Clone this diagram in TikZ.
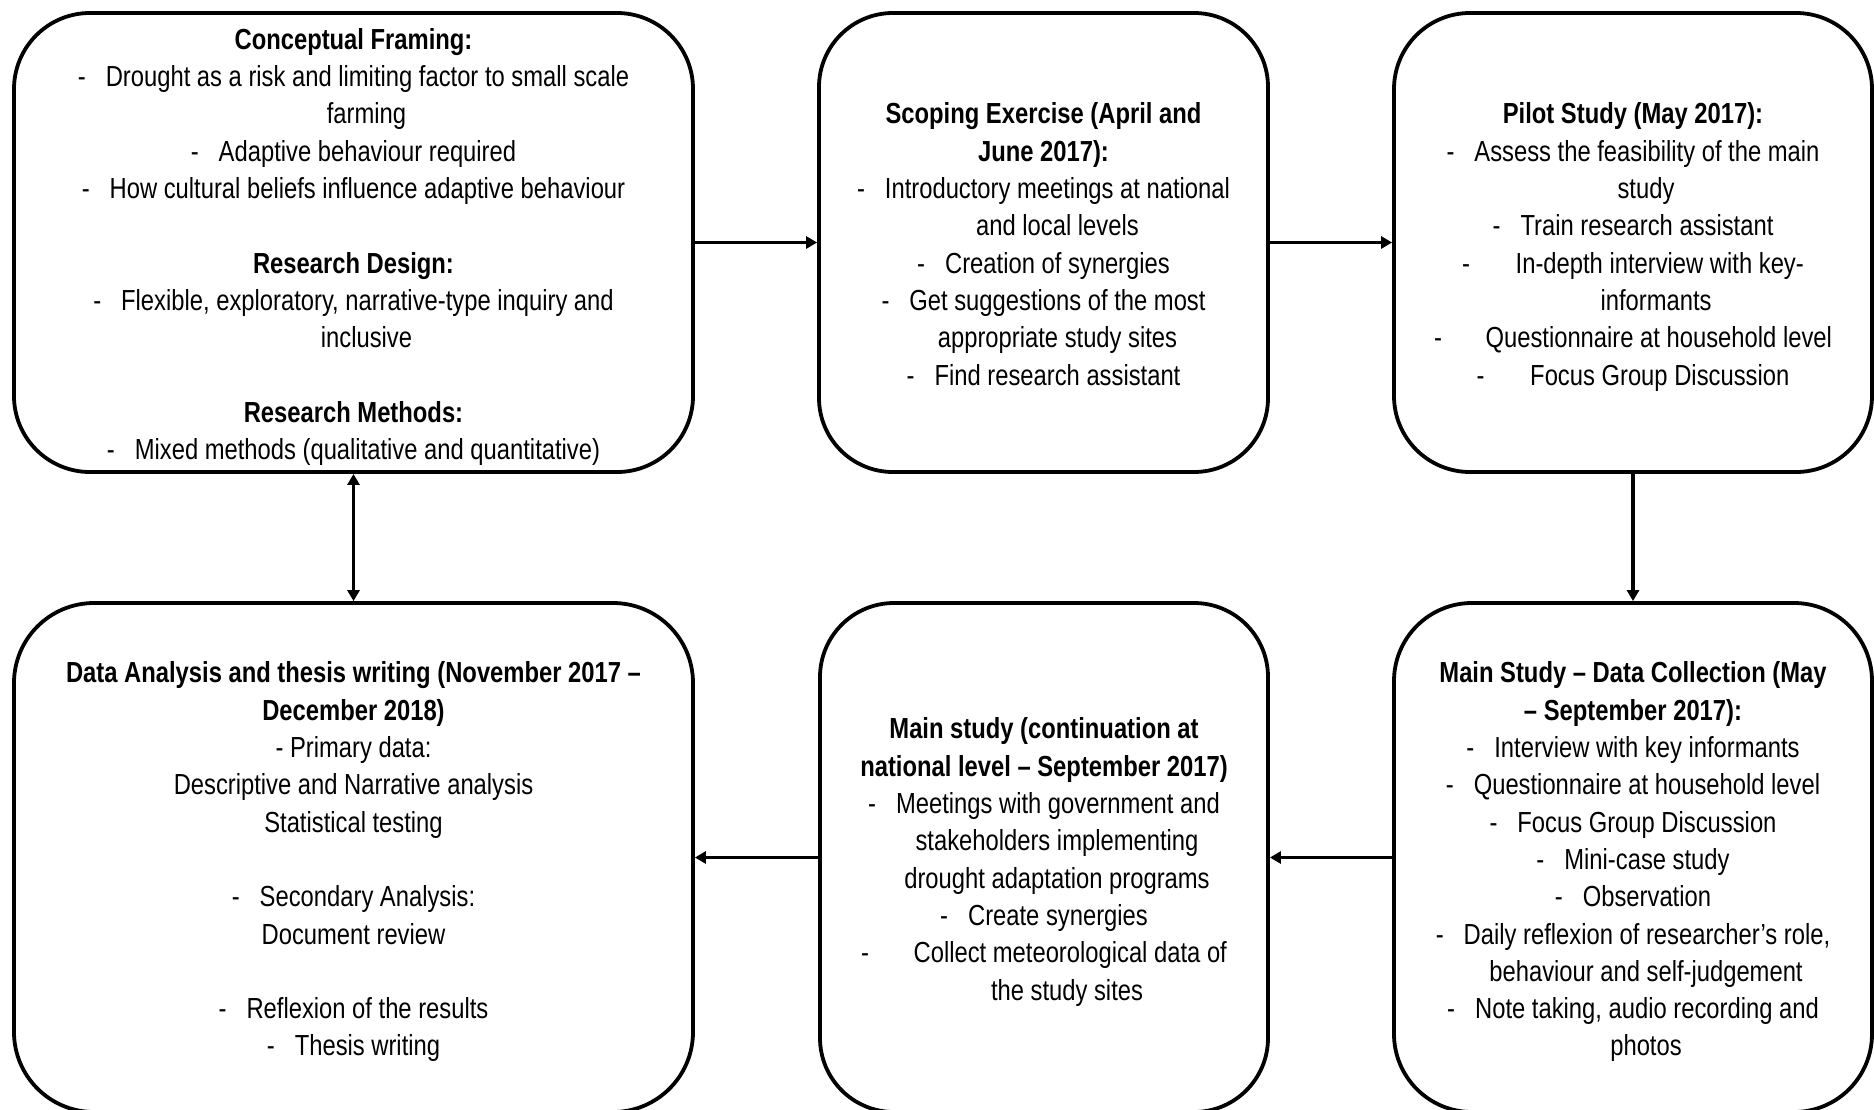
\documentclass[tikz,border=0pt]{standalone}
\usepackage{fontspec}
\setmainfont{Liberation Sans}[FakeStretch=0.82]
\usetikzlibrary{arrows.meta}

% dash bullet with adjustable gap before the item text
\newcommand\dashitem[1][20pt]{-\hspace*{#1}}
% indent for wrapped continuation lines
\newcommand\contline[1][26pt]{\hspace*{#1}}

\tikzset{
  stage/.style={draw, line width=3.8pt, rectangle, inner sep=0pt},
  stagetext/.style={align=center, inner sep=0pt, text=black,
    font=\fontsize{29pt}{37.3pt}\selectfont},
  conn/.style={line width=3.2pt, -{Triangle[length=11pt,width=12pt]}},
  dconn/.style={line width=3.2pt, {Triangle[length=11pt,width=12pt]}-{Triangle[length=11pt,width=12pt]}}
}

\begin{document}
\begin{tikzpicture}[x=1pt, y=-1pt]
\useasboundingbox[fill=white] (0,0) rectangle (1874,1109);

% stage frames: top row
\node[stage, rounded corners=76pt, minimum width=679pt, minimum height=459pt] (b1) at (353.5,242.5) {};
\node[stage, rounded corners=74pt, minimum width=449pt, minimum height=459pt] (b2) at (1043.5,242.5) {};
\node[stage, rounded corners=76pt, minimum width=478pt, minimum height=459pt] (b3) at (1633,242.5) {};
% stage frames: bottom row
\node[stage, rounded corners=80pt, minimum width=679pt, minimum height=509pt] (b4) at (353.5,857.5) {};
\node[stage, rounded corners=74pt, minimum width=448pt, minimum height=509pt] (b5) at (1044,857.5) {};
\node[stage, rounded corners=78pt, minimum width=478pt, minimum height=509pt] (b6) at (1633,857.5) {};

% stage contents
\node[stagetext] (t1) at ([yshift=-4.5pt]b1.center) {%
\strut\textbf{Conceptual Framing:}\\
\dashitem Drought as a risk and limiting factor to small scale\\
\contline farming\\
\dashitem Adaptive behaviour required\\
\dashitem How cultural beliefs influence adaptive behaviour\\
\mbox{}\\
\textbf{Research Design:}\\
\dashitem Flexible, exploratory, narrative-type inquiry and\\
\contline inclusive\\
\mbox{}\\
\textbf{Research Methods:}\\
\dashitem Mixed methods (qualitative and quantitative)\strut};

\node[stagetext] (t2) at ([yshift=-4.5pt]b2.center) {%
\strut\textbf{Scoping Exercise (April and}\\
\textbf{June 2017):}\\
\dashitem Introductory meetings at national\\
\contline[28pt]and local levels\\
\dashitem Creation of synergies\\
\dashitem Get suggestions of the most\\
\contline[28pt]appropriate study sites\\
\dashitem Find research assistant\strut};

\node[stagetext] (t3) at ([yshift=-4.5pt]b3.center) {%
\strut\textbf{Pilot Study (May 2017):}\\
\dashitem Assess the feasibility of the main\\
\contline study\\
\dashitem Train research assistant\\
\dashitem[39pt] In-depth interview with key-\\
\contline[46pt]informants\\
\dashitem[37pt] Questionnaire at household level\\
\dashitem[39pt] Focus Group Discussion\strut};

\node[stagetext] (t4) at ([yshift=-4.5pt]b4.center) {%
\strut\textbf{Data Analysis and thesis writing (November 2017 –}\\
\textbf{December 2018)}\\
- Primary data:\\
Descriptive and Narrative analysis\\
Statistical testing\\
\mbox{}\\
\dashitem Secondary Analysis:\\
Document review\\
\mbox{}\\
\dashitem Reflexion of the results\\
\dashitem Thesis writing\strut};

\node[stagetext] (t5) at ([yshift=-4.5pt]b5.center) {%
\strut\textbf{Main study (continuation at}\\
\textbf{national level – September 2017)}\\
\dashitem Meetings with government and\\
\contline stakeholders implementing\\
\contline drought adaptation programs\\
\dashitem Create synergies\\
\dashitem[38pt] Collect meteorological data of\\
\contline[46pt]the study sites\strut};

\node[stagetext] (t6) at ([yshift=-4.5pt]b6.center) {%
\strut\textbf{Main Study – Data Collection (May}\\
\textbf{– September 2017):}\\
\dashitem Interview with key informants\\
\dashitem Questionnaire at household level\\
\dashitem Focus Group Discussion\\
\dashitem Mini-case study\\
\dashitem Observation\\
\dashitem Daily reflexion of researcher’s role,\\
\contline behaviour and self-judgement\\
\dashitem Note taking, audio recording and\\
\contline photos\strut};

% flow between stages
\draw[conn] (b1.east) -- (b2.west);
\draw[conn] (b2.east) -- (b3.west);
\draw[conn] (b3.south) -- (b6.north);
\draw[conn] (b6.west) -- (b5.east);
\draw[conn] (b5.west) -- (b4.east);
\draw[dconn] (b1.south) -- (b4.north);
\end{tikzpicture}
\end{document}
